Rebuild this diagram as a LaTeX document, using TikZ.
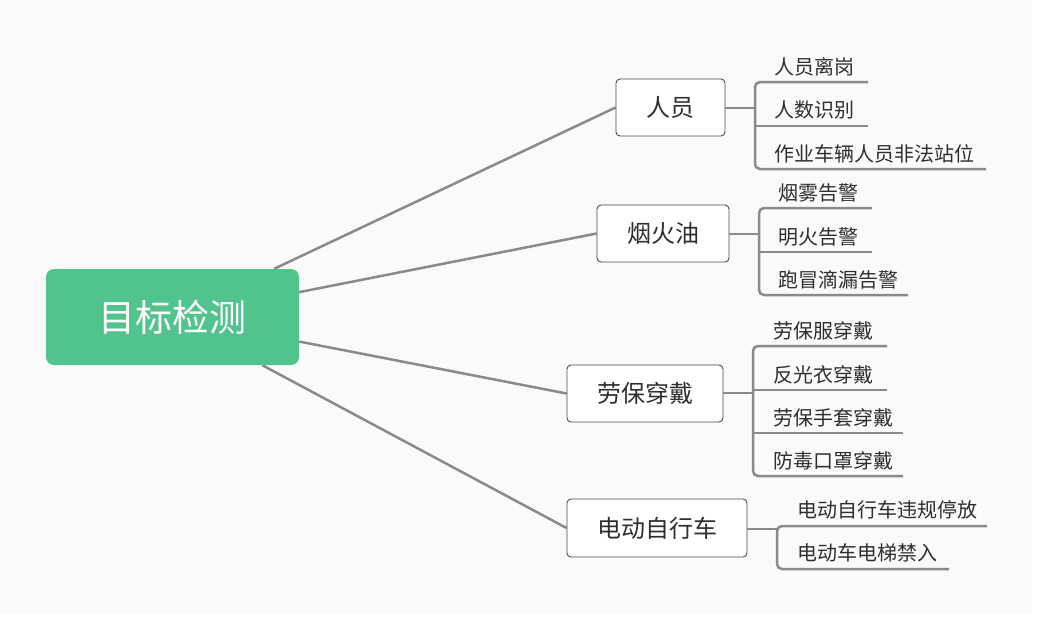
\documentclass[tikz,border=0pt]{standalone}
\usepackage{fontspec}
\setmainfont{Noto Sans CJK SC}
\usetikzlibrary{backgrounds}
\definecolor{bg}{HTML}{FAFAFA}
\definecolor{rootgreen}{HTML}{50C48C}
\definecolor{linegray}{HTML}{8A8A8A}
\definecolor{boxborder}{HTML}{4A4A4A}
\definecolor{txt}{HTML}{2E2E2E}
\tikzset{
  rootbox/.style={fill=rootgreen, rounded corners=8pt, minimum width=253pt, minimum height=96pt, inner sep=0pt, text=white, font=\fontsize{37}{42}\selectfont},
  topic/.style={draw=boxborder, fill=white, rounded corners=4pt, line width=0.9pt, minimum height=57pt, inner sep=0pt, text=txt, font=\fontsize{24}{28}\selectfont},
  leaf/.style={anchor=west, inner sep=0pt, text=txt, font=\fontsize{20}{24}\selectfont},
  branch/.style={draw=linegray, line width=2.5pt},
  bracket/.style={branch, rounded corners=5pt},
}
\begin{document}
\begin{tikzpicture}[x=1pt,y=-1pt]
\useasboundingbox (0,0) rectangle (1038,619);

% root and topics
\node[rootbox] (root) at (172.5,317) {目标检测};
\node[topic, minimum width=109pt] (p1) at (670.5,107.5) {人员};
\node[topic, minimum width=132pt] (p2) at (663,233.5) {烟火油};
\node[topic, minimum width=156pt] (p3) at (645,393.5) {劳保穿戴};
\node[topic, minimum width=180pt, minimum height=58pt] (p4) at (657,528) {电动自行车};

\begin{scope}[on background layer]
\fill[white] (0,0) rectangle (1038,619);
\fill[bg] (0,0) rectangle (1032,614);
\draw[branch] (root) -- (p1.west);
\draw[branch] (root) -- (p2.west);
\draw[branch] (root) -- (p3.west);
\draw[branch] (root) -- (p4.west);
\end{scope}

% group 1
\node[leaf] (l11) at (774,67) {人员离岗};
\node[leaf] (l12) at (774,110) {人数识别};
\node[leaf] (l13) at (774,154) {作业车辆人员非法站位};
\coordinate (e11) at (868,82);
\coordinate (e12) at (868,126);
\coordinate (e13) at (986,169);
\coordinate (v1) at (755,108);
\draw[branch] (p1.east |- v1) -- (v1);
\draw[bracket] (e11) -- (755,82) -- (755,169) -- (e13);
\draw[branch] (755,126) -- (e12);

% group 2
\node[leaf] (l21) at (778,193) {烟雾告警};
\node[leaf] (l22) at (778,237) {明火告警};
\node[leaf] (l23) at (778,280) {跑冒滴漏告警};
\coordinate (e21) at (872,208);
\coordinate (e22) at (872,252);
\coordinate (e23) at (908,295);
\coordinate (v2) at (759,234);
\draw[branch] (p2.east |- v2) -- (v2);
\draw[bracket] (e21) -- (759,208) -- (759,295) -- (e23);
\draw[branch] (759,252) -- (e22);

% group 3
\node[leaf] (l31) at (773,331) {劳保服穿戴};
\node[leaf] (l32) at (773,375) {反光衣穿戴};
\node[leaf] (l33) at (773,418) {劳保手套穿戴};
\node[leaf] (l34) at (773,461) {防毒口罩穿戴};
\coordinate (e31) at (887,346);
\coordinate (e32) at (887,390);
\coordinate (e33) at (903,433);
\coordinate (e34) at (903,476);
\coordinate (v3) at (753,393);
\draw[branch] (p3.east |- v3) -- (v3);
\draw[bracket] (e31) -- (753,346) -- (753,476) -- (e34);
\draw[branch] (753,390) -- (e32);
\draw[branch] (753,433) -- (e33);

% group 4
\node[leaf] (l41) at (797,510) {电动自行车违规停放};
\node[leaf] (l42) at (797,553) {电动车电梯禁入};
\coordinate (e41) at (987,526);
\coordinate (e42) at (949,569);
\coordinate (v4) at (777,529);
\draw[branch] (p4.east |- v4) -- (v4);
\draw[bracket] (e41) -- (777,526) -- (777,569) -- (e42);
\end{tikzpicture}
\end{document}
